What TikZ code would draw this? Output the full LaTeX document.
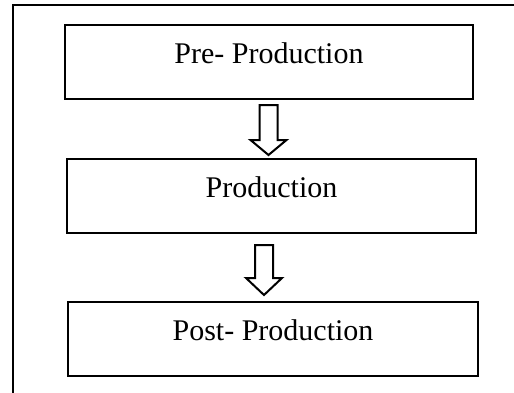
\documentclass[tikz,border=0pt]{standalone}
\usepackage{fontspec}
\setmainfont{Liberation Serif}
\tikzset{
  stagebox/.style={draw, line width=1.3pt, minimum height=37pt, inner sep=0pt,
    text height=10pt, text depth=9pt, font=\fontsize{15}{18}\selectfont},
  hollowarrow/.style={draw, line width=1pt, fill=white}
}
\begin{document}
\begin{tikzpicture}[x=0.5pt, y=-0.5pt]
      \useasboundingbox (0,0) rectangle (514,392);
      % outer frame
      \draw[line width=1.3pt] (520,5) -- (13,5) -- (13,400);
      %
      \node[stagebox, minimum width=204pt] (pre) at (269,62) {Pre- Production};
      \node[stagebox, minimum width=204.5pt] (prod) at (271.5,196) {Production};
      \node[stagebox, minimum width=205pt] (post) at (273,339) {Post- Production};
      %
      \foreach \xc/\ya/\yb/\yc in {268.5/105/140/155, 264/245/278/295}
        \draw[hollowarrow] (\xc-9,\ya) -- (\xc+9,\ya) -- (\xc+9,\yb) -- (\xc+18,\yb)
          -- (\xc,\yc) -- (\xc-18,\yb) -- (\xc-9,\yb) -- cycle;
      %
    \end{tikzpicture}
\end{document}
